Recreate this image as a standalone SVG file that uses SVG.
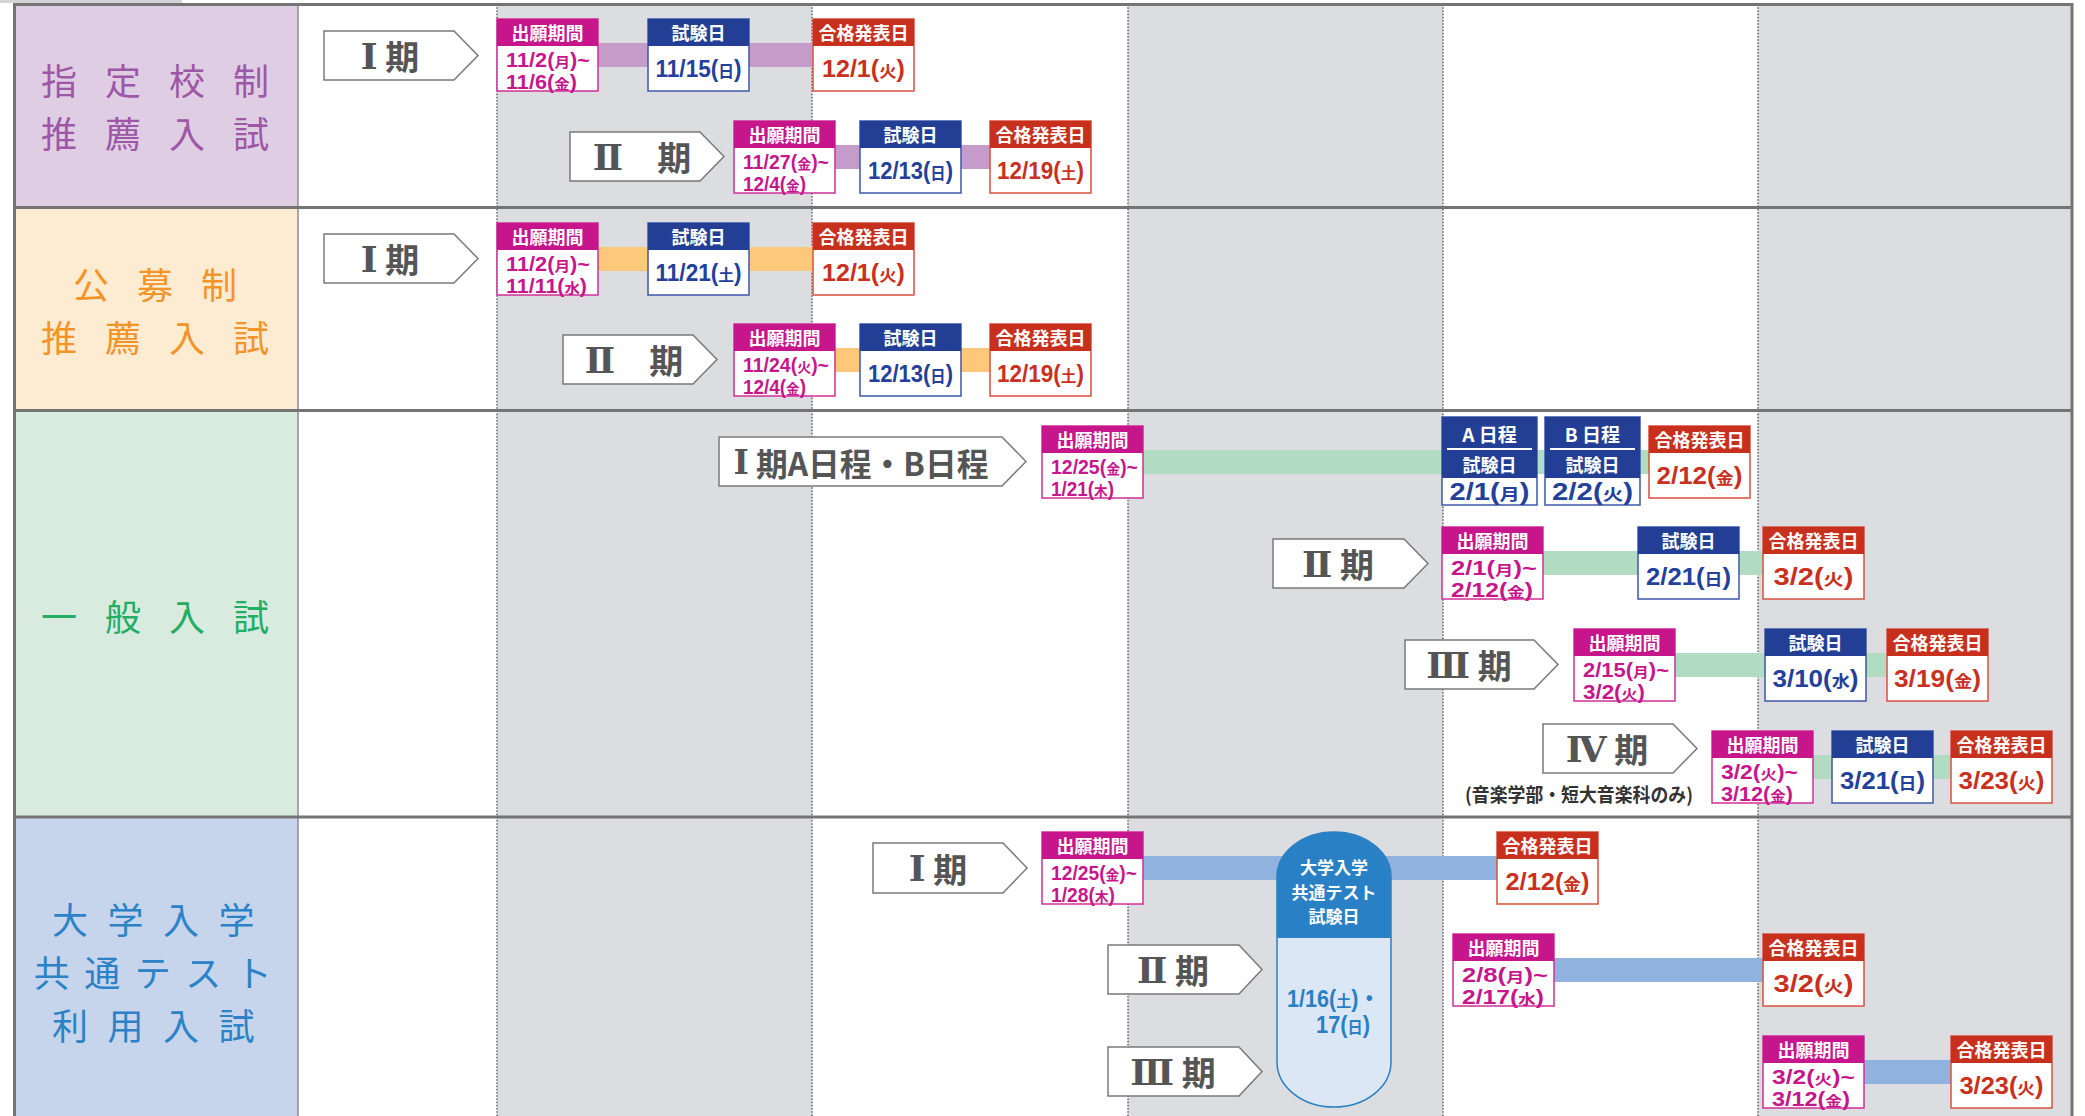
<svg xmlns="http://www.w3.org/2000/svg" width="2085" height="1116" viewBox="0 0 2085 1116">
<style>
text { font-family: "Noto Sans CJK JP", "Noto Sans", sans-serif; }
.ln { stroke:#747474; stroke-width:3; }
.vl { stroke:#8c8c8c; stroke-width:1.5; }
.dot { stroke:#6e6e6e; stroke-width:1.6; stroke-dasharray:1.6 1.6; }
.arr { fill:#fff; stroke:#7a7a7a; stroke-width:1.5; }
.at { font-weight:700; font-size:34px; fill:#555; text-anchor:middle; dominant-baseline:central; }
.rn { font-family: "DejaVu Serif", "Liberation Serif", serif; font-size:36px; }
.cat { font-size:36px; text-anchor:middle; dominant-baseline:central; letter-spacing:28px; }
.hd { font-weight:700; font-size:18px; fill:#fff; text-anchor:middle; dominant-baseline:central; }
.d { font-family: "Liberation Sans Narrow", "Liberation Sans", "Noto Sans CJK JP", sans-serif; font-weight:700; font-size:23px; }
.d2 { font-size:19.5px; }
.c { text-anchor:middle; }
.k { font-family: "Noto Sans CJK JP", sans-serif; font-size:16px; }
.d2 .k { font-size:14px; }
.ma { fill:#c7168b; } .nv { fill:#23409a; } .rd { fill:#c93020; }
.bA { fill:#fff; stroke:#d02f98; stroke-width:1.5; } .hA { fill:#c7168b; }
.bE { fill:#fff; stroke:#3c57aa; stroke-width:1.5; } .hE { fill:#233f95; }
.bP { fill:#fff; stroke:#d9503f; stroke-width:1.5; } .hP { fill:#c8301e; }
.gb { fill:#dcdde0; }
.barP { fill:#c59cc9; } .barO { fill:#fdc87a; } .barG { fill:#b1dcc1; } .barB { fill:#8fb2de; }
</style>

<g id="background">
  <rect x="0" y="0" width="182" height="3" fill="#d4d4d4"/>
  <rect class="gb" x="497" y="4" width="315" height="1112"/>
  <rect class="gb" x="1128" y="4" width="315" height="1112"/>
  <rect class="gb" x="1758" y="4" width="314" height="1112"/>
  <rect x="15" y="4" width="283" height="203" fill="#dfcde3"/>
  <rect x="15" y="207" width="283" height="203" fill="#fdecd1"/>
  <rect x="15" y="410" width="283" height="407" fill="#d8ebde"/>
  <rect x="15" y="817" width="283" height="299" fill="#c6d4ec"/>
  <line class="dot" x1="497" y1="4" x2="497" y2="1116"/>
  <line class="dot" x1="812" y1="4" x2="812" y2="1116"/>
  <line class="dot" x1="1128" y1="4" x2="1128" y2="1116"/>
  <line class="dot" x1="1443" y1="4" x2="1443" y2="1116"/>
  <line class="dot" x1="1758" y1="4" x2="1758" y2="1116"/>
  <line class="vl" x1="298" y1="4" x2="298" y2="1116"/>
  <line class="ln" x1="14.5" y1="3" x2="14.5" y2="1116" stroke-width="2.5"/>
  <line class="ln" x1="2072" y1="3" x2="2072" y2="1116" stroke-width="2"/>
  <line class="ln" x1="13" y1="4.5" x2="2073" y2="4.5" stroke-width="2.5"/>
  <line class="ln" x1="13" y1="207.5" x2="2073" y2="207.5"/>
  <line class="ln" x1="13" y1="410.5" x2="2073" y2="410.5"/>
  <line class="ln" x1="13" y1="817" x2="2073" y2="817"/>
</g>

<g id="categories">
  <g id="cat-shitei" fill="#9d57a6">
    <text class="cat"><tspan x="169" y="78.5">指定校制</tspan><tspan x="169" y="131.5">推薦入試</tspan></text>
  </g>
  <g id="cat-koubo" fill="#f39428">
    <text class="cat"><tspan x="169" y="282.5">公募制</tspan><tspan x="169" y="335.5">推薦入試</tspan></text>
  </g>
  <g id="cat-ippan" fill="#23ad63">
    <text class="cat" x="169" y="615">一般入試</text>
  </g>
  <g id="cat-kyoutsu" fill="#2b82c6">
    <text class="cat"><tspan x="163" y="918" style="letter-spacing:19.5px">大学入学</tspan><tspan x="160" y="971" style="letter-spacing:14.5px">共通テスト</tspan><tspan x="163" y="1024" style="letter-spacing:19.5px">利用入試</tspan></text>
  </g>
</g>

<g id="connectors">
  <rect class="barP" x="598" y="43" width="215" height="24"/>
  <rect class="barP" x="835" y="145" width="155" height="24"/>
  <rect class="barO" x="598" y="247" width="215" height="24"/>
  <rect class="barO" x="835" y="348" width="155" height="24"/>
  <rect class="barG" x="1143" y="450" width="506" height="24"/>
  <rect class="barG" x="1543" y="551" width="220" height="24"/>
  <rect class="barG" x="1675" y="653" width="212" height="24"/>
  <rect class="barG" x="1813" y="755" width="138" height="24"/>
  <rect class="barB" x="1143" y="856" width="354" height="24"/>
  <rect class="barB" x="1554" y="958" width="209" height="24"/>
  <rect class="barB" x="1864" y="1060" width="87" height="24"/>
</g>

<g id="period-labels">
  <g id="r1-p1"><path class="arr" d="M324,31 H454 L478,55.5 L454,80 H324 Z"/><text class="at" x="390" y="55.5"><tspan class="rn">Ⅰ</tspan> 期</text></g>
  <g id="r1-p2"><path class="arr" d="M570,132 H700 L724,156.5 L700,181 H570 Z"/><text class="at" x="642" y="156.5"><tspan class="rn">Ⅱ</tspan>　期</text></g>
  <g id="r2-p1"><path class="arr" d="M324,234 H454 L478,258.5 L454,283 H324 Z"/><text class="at" x="390" y="258.5"><tspan class="rn">Ⅰ</tspan> 期</text></g>
  <g id="r2-p2"><path class="arr" d="M563,335 H693 L717,359.5 L693,384 H563 Z"/><text class="at" x="634" y="359.5"><tspan class="rn">Ⅱ</tspan>　期</text></g>
  <g id="r3-p1"><path class="arr" d="M719,437 H1002 L1026,461.5 L1002,486 H719 Z"/><text class="at" x="861" y="461.5" style="font-size:32px" textLength="255" lengthAdjust="spacingAndGlyphs"><tspan class="rn" style="font-size:33px">Ⅰ</tspan> 期A日程・B日程</text></g>
  <g id="r3-p2"><path class="arr" d="M1273,539 H1404 L1428,563.5 L1404,588 H1273 Z"/><text class="at" x="1338" y="563.5"><tspan class="rn">Ⅱ</tspan> 期</text></g>
  <g id="r3-p3"><path class="arr" d="M1405,640 H1534 L1558,664.5 L1534,689 H1405 Z"/><text class="at" x="1469" y="664.5"><tspan class="rn">Ⅲ</tspan> 期</text></g>
  <g id="r3-p4"><path class="arr" d="M1543,724 H1673 L1697,748.5 L1673,773 H1543 Z"/><text class="at" x="1607" y="748.5"><tspan class="rn">Ⅳ</tspan> 期</text>
    <text x="1465" y="802" style="font-weight:700;font-size:19px;fill:#333" textLength="228" lengthAdjust="spacingAndGlyphs">(音楽学部・短大音楽科のみ)</text></g>
  <g id="r4-p1"><path class="arr" d="M873,843 H1003 L1027,868 L1003,893 H873 Z"/><text class="at" x="938" y="868"><tspan class="rn">Ⅰ</tspan> 期</text></g>
  <g id="r4-p2"><path class="arr" d="M1108,945 H1239 L1262,969.5 L1239,994 H1108 Z"/><text class="at" x="1173" y="969.5"><tspan class="rn">Ⅱ</tspan> 期</text></g>
  <g id="r4-p3"><path class="arr" d="M1108,1047 H1239 L1262,1071.5 L1239,1096 H1108 Z"/><text class="at" x="1173" y="1071.5"><tspan class="rn">Ⅲ</tspan> 期</text></g>
</g>

<g id="capsule">
  <rect x="1277" y="832" width="114" height="275" rx="57" ry="45" fill="#dce7f5" stroke="#2a80c5" stroke-width="1.5"/>
  <path d="M1277,938 V877 A57,45 0 0 1 1391,877 V938 Z" fill="#2a80c5"/>
  <text class="hd" style="font-size:17px"><tspan x="1334" y="866">大学入学</tspan><tspan x="1334" y="890.7">共通テスト</tspan><tspan x="1334" y="915.4">試験日</tspan></text>
  <text class="d" fill="#2a80c5"><tspan x="1287" y="1007" textLength="93" lengthAdjust="spacingAndGlyphs">1/16(<tspan class="k">土</tspan>)・</tspan><tspan x="1316" y="1033" textLength="54" lengthAdjust="spacingAndGlyphs">17(<tspan class="k">日</tspan>)</tspan></text>
</g>

<g id="r1-apply1"><rect class="bA" x="497" y="19" width="101" height="72"/><rect class="hA" x="497" y="19" width="101" height="27"/><text class="hd" x="547.5" y="32">出願期間</text>
  <text class="d d2 ma"><tspan x="506" y="67" textLength="84" lengthAdjust="spacingAndGlyphs">11/2(<tspan class="k">月</tspan>)~</tspan><tspan x="506" y="88.5" textLength="71" lengthAdjust="spacingAndGlyphs">11/6(<tspan class="k">金</tspan>)</tspan></text></g>
<g id="r1-exam1"><rect class="bE" x="648" y="19" width="101" height="72"/><rect class="hE" x="648" y="19" width="101" height="27"/><text class="hd" x="698.5" y="32">試験日</text>
  <text class="d c nv" x="698.5" y="77" textLength="86" lengthAdjust="spacingAndGlyphs">11/15(<tspan class="k">日</tspan>)</text></g>
<g id="r1-pass1"><rect class="bP" x="813" y="19" width="101" height="72"/><rect class="hP" x="813" y="19" width="101" height="27"/><text class="hd" x="863.5" y="32">合格発表日</text>
  <text class="d c rd" x="863.5" y="77" textLength="83" lengthAdjust="spacingAndGlyphs">12/1(<tspan class="k">火</tspan>)</text></g>

<g id="r1-apply2"><rect class="bA" x="734" y="121" width="101" height="72"/><rect class="hA" x="734" y="121" width="101" height="27"/><text class="hd" x="784.5" y="134">出願期間</text>
  <text class="d d2 ma"><tspan x="743" y="169" textLength="86" lengthAdjust="spacingAndGlyphs">11/27(<tspan class="k">金</tspan>)~</tspan><tspan x="743" y="190.5" textLength="63" lengthAdjust="spacingAndGlyphs">12/4(<tspan class="k">金</tspan>)</tspan></text></g>
<g id="r1-exam2"><rect class="bE" x="860" y="121" width="101" height="72"/><rect class="hE" x="860" y="121" width="101" height="27"/><text class="hd" x="910.5" y="134">試験日</text>
  <text class="d c nv" x="910.5" y="179" textLength="85" lengthAdjust="spacingAndGlyphs">12/13(<tspan class="k">日</tspan>)</text></g>
<g id="r1-pass2"><rect class="bP" x="990" y="121" width="101" height="72"/><rect class="hP" x="990" y="121" width="101" height="27"/><text class="hd" x="1040.5" y="134">合格発表日</text>
  <text class="d c rd" x="1040.5" y="179" textLength="87" lengthAdjust="spacingAndGlyphs">12/19(<tspan class="k">土</tspan>)</text></g>

<g id="r2-apply1"><rect class="bA" x="497" y="223" width="101" height="72"/><rect class="hA" x="497" y="223" width="101" height="27"/><text class="hd" x="547.5" y="236">出願期間</text>
  <text class="d d2 ma"><tspan x="506" y="271" textLength="84" lengthAdjust="spacingAndGlyphs">11/2(<tspan class="k">月</tspan>)~</tspan><tspan x="506" y="292.5" textLength="81" lengthAdjust="spacingAndGlyphs">11/11(<tspan class="k">水</tspan>)</tspan></text></g>
<g id="r2-exam1"><rect class="bE" x="648" y="223" width="101" height="72"/><rect class="hE" x="648" y="223" width="101" height="27"/><text class="hd" x="698.5" y="236">試験日</text>
  <text class="d c nv" x="698.5" y="281" textLength="86" lengthAdjust="spacingAndGlyphs">11/21(<tspan class="k">土</tspan>)</text></g>
<g id="r2-pass1"><rect class="bP" x="813" y="223" width="101" height="72"/><rect class="hP" x="813" y="223" width="101" height="27"/><text class="hd" x="863.5" y="236">合格発表日</text>
  <text class="d c rd" x="863.5" y="281" textLength="83" lengthAdjust="spacingAndGlyphs">12/1(<tspan class="k">火</tspan>)</text></g>

<g id="r2-apply2"><rect class="bA" x="734" y="324" width="101" height="72"/><rect class="hA" x="734" y="324" width="101" height="27"/><text class="hd" x="784.5" y="337">出願期間</text>
  <text class="d d2 ma"><tspan x="743" y="372" textLength="86" lengthAdjust="spacingAndGlyphs">11/24(<tspan class="k">火</tspan>)~</tspan><tspan x="743" y="393.5" textLength="63" lengthAdjust="spacingAndGlyphs">12/4(<tspan class="k">金</tspan>)</tspan></text></g>
<g id="r2-exam2"><rect class="bE" x="860" y="324" width="101" height="72"/><rect class="hE" x="860" y="324" width="101" height="27"/><text class="hd" x="910.5" y="337">試験日</text>
  <text class="d c nv" x="910.5" y="382" textLength="85" lengthAdjust="spacingAndGlyphs">12/13(<tspan class="k">日</tspan>)</text></g>
<g id="r2-pass2"><rect class="bP" x="990" y="324" width="101" height="72"/><rect class="hP" x="990" y="324" width="101" height="27"/><text class="hd" x="1040.5" y="337">合格発表日</text>
  <text class="d c rd" x="1040.5" y="382" textLength="87" lengthAdjust="spacingAndGlyphs">12/19(<tspan class="k">土</tspan>)</text></g>

<g id="r3-apply1"><rect class="bA" x="1042" y="426" width="101" height="72"/><rect class="hA" x="1042" y="426" width="101" height="27"/><text class="hd" x="1092.5" y="439">出願期間</text>
  <text class="d d2 ma"><tspan x="1051" y="474" textLength="87" lengthAdjust="spacingAndGlyphs">12/25(<tspan class="k">金</tspan>)~</tspan><tspan x="1051" y="495.5" textLength="63" lengthAdjust="spacingAndGlyphs">1/21(<tspan class="k">木</tspan>)</tspan></text></g>
<g id="r3-examA"><rect class="bE" x="1442" y="417" width="95" height="88"/><rect class="hE" x="1442" y="417" width="95" height="61"/>
  <text class="hd" x="1489.5" y="433" style="font-size:19px">A 日程</text>
  <line x1="1447" y1="449" x2="1532" y2="449" stroke="#fff" stroke-width="2"/>
  <text class="hd" x="1489.5" y="463.5">試験日</text>
  <text class="d c nv" x="1489.5" y="500" textLength="80" lengthAdjust="spacingAndGlyphs">2/1(<tspan class="k">月</tspan>)</text></g>
<g id="r3-examB"><rect class="bE" x="1545" y="417" width="95" height="88"/><rect class="hE" x="1545" y="417" width="95" height="61"/>
  <text class="hd" x="1592.5" y="433" style="font-size:19px">B 日程</text>
  <line x1="1550" y1="449" x2="1635" y2="449" stroke="#fff" stroke-width="2"/>
  <text class="hd" x="1592.5" y="463.5">試験日</text>
  <text class="d c nv" x="1592.5" y="500" textLength="81" lengthAdjust="spacingAndGlyphs">2/2(<tspan class="k">火</tspan>)</text></g>
<g id="r3-pass1"><rect class="bP" x="1649" y="426" width="101" height="72"/><rect class="hP" x="1649" y="426" width="101" height="27"/><text class="hd" x="1699.5" y="439">合格発表日</text>
  <text class="d c rd" x="1699.5" y="484" textLength="86" lengthAdjust="spacingAndGlyphs">2/12(<tspan class="k">金</tspan>)</text></g>

<g id="r3-apply2"><rect class="bA" x="1442" y="527" width="101" height="72"/><rect class="hA" x="1442" y="527" width="101" height="27"/><text class="hd" x="1492.5" y="540">出願期間</text>
  <text class="d d2 ma"><tspan x="1451" y="575" textLength="86" lengthAdjust="spacingAndGlyphs">2/1(<tspan class="k">月</tspan>)~</tspan><tspan x="1451" y="596.5" textLength="82" lengthAdjust="spacingAndGlyphs">2/12(<tspan class="k">金</tspan>)</tspan></text></g>
<g id="r3-exam2"><rect class="bE" x="1638" y="527" width="101" height="72"/><rect class="hE" x="1638" y="527" width="101" height="27"/><text class="hd" x="1688.5" y="540">試験日</text>
  <text class="d c nv" x="1688.5" y="585" textLength="85" lengthAdjust="spacingAndGlyphs">2/21(<tspan class="k">日</tspan>)</text></g>
<g id="r3-pass2"><rect class="bP" x="1763" y="527" width="101" height="72"/><rect class="hP" x="1763" y="527" width="101" height="27"/><text class="hd" x="1813.5" y="540">合格発表日</text>
  <text class="d c rd" x="1813.5" y="585" textLength="80" lengthAdjust="spacingAndGlyphs">3/2(<tspan class="k">火</tspan>)</text></g>

<g id="r3-apply3"><rect class="bA" x="1574" y="629" width="101" height="72"/><rect class="hA" x="1574" y="629" width="101" height="27"/><text class="hd" x="1624.5" y="642">出願期間</text>
  <text class="d d2 ma"><tspan x="1583" y="677" textLength="86" lengthAdjust="spacingAndGlyphs">2/15(<tspan class="k">月</tspan>)~</tspan><tspan x="1583" y="698.5" textLength="62" lengthAdjust="spacingAndGlyphs">3/2(<tspan class="k">火</tspan>)</tspan></text></g>
<g id="r3-exam3"><rect class="bE" x="1765" y="629" width="101" height="72"/><rect class="hE" x="1765" y="629" width="101" height="27"/><text class="hd" x="1815.5" y="642">試験日</text>
  <text class="d c nv" x="1815.5" y="687" textLength="86" lengthAdjust="spacingAndGlyphs">3/10(<tspan class="k">水</tspan>)</text></g>
<g id="r3-pass3"><rect class="bP" x="1887" y="629" width="101" height="72"/><rect class="hP" x="1887" y="629" width="101" height="27"/><text class="hd" x="1937.5" y="642">合格発表日</text>
  <text class="d c rd" x="1937.5" y="687" textLength="87" lengthAdjust="spacingAndGlyphs">3/19(<tspan class="k">金</tspan>)</text></g>

<g id="r3-apply4"><rect class="bA" x="1712" y="731" width="101" height="72"/><rect class="hA" x="1712" y="731" width="101" height="27"/><text class="hd" x="1762.5" y="744">出願期間</text>
  <text class="d d2 ma"><tspan x="1721" y="779" textLength="77" lengthAdjust="spacingAndGlyphs">3/2(<tspan class="k">火</tspan>)~</tspan><tspan x="1721" y="800.5" textLength="72" lengthAdjust="spacingAndGlyphs">3/12(<tspan class="k">金</tspan>)</tspan></text></g>
<g id="r3-exam4"><rect class="bE" x="1832" y="731" width="101" height="72"/><rect class="hE" x="1832" y="731" width="101" height="27"/><text class="hd" x="1882.5" y="744">試験日</text>
  <text class="d c nv" x="1882.5" y="789" textLength="85" lengthAdjust="spacingAndGlyphs">3/21(<tspan class="k">日</tspan>)</text></g>
<g id="r3-pass4"><rect class="bP" x="1951" y="731" width="101" height="72"/><rect class="hP" x="1951" y="731" width="101" height="27"/><text class="hd" x="2001.5" y="744">合格発表日</text>
  <text class="d c rd" x="2001.5" y="789" textLength="86" lengthAdjust="spacingAndGlyphs">3/23(<tspan class="k">火</tspan>)</text></g>

<g id="r4-apply1"><rect class="bA" x="1042" y="832" width="101" height="72"/><rect class="hA" x="1042" y="832" width="101" height="27"/><text class="hd" x="1092.5" y="845">出願期間</text>
  <text class="d d2 ma"><tspan x="1051" y="880" textLength="86" lengthAdjust="spacingAndGlyphs">12/25(<tspan class="k">金</tspan>)~</tspan><tspan x="1051" y="901.5" textLength="64" lengthAdjust="spacingAndGlyphs">1/28(<tspan class="k">木</tspan>)</tspan></text></g>
<g id="r4-pass1"><rect class="bP" x="1497" y="832" width="101" height="72"/><rect class="hP" x="1497" y="832" width="101" height="27"/><text class="hd" x="1547.5" y="845">合格発表日</text>
  <text class="d c rd" x="1547.5" y="890" textLength="84" lengthAdjust="spacingAndGlyphs">2/12(<tspan class="k">金</tspan>)</text></g>

<g id="r4-apply2"><rect class="bA" x="1453" y="934" width="101" height="72"/><rect class="hA" x="1453" y="934" width="101" height="27"/><text class="hd" x="1503.5" y="947">出願期間</text>
  <text class="d d2 ma"><tspan x="1462" y="982" textLength="86" lengthAdjust="spacingAndGlyphs">2/8(<tspan class="k">月</tspan>)~</tspan><tspan x="1462" y="1003.5" textLength="82" lengthAdjust="spacingAndGlyphs">2/17(<tspan class="k">水</tspan>)</tspan></text></g>
<g id="r4-pass2"><rect class="bP" x="1763" y="934" width="101" height="72"/><rect class="hP" x="1763" y="934" width="101" height="27"/><text class="hd" x="1813.5" y="947">合格発表日</text>
  <text class="d c rd" x="1813.5" y="992" textLength="80" lengthAdjust="spacingAndGlyphs">3/2(<tspan class="k">火</tspan>)</text></g>

<g id="r4-apply3"><rect class="bA" x="1763" y="1036" width="101" height="72"/><rect class="hA" x="1763" y="1036" width="101" height="27"/><text class="hd" x="1813.5" y="1049">出願期間</text>
  <text class="d d2 ma"><tspan x="1772" y="1084" textLength="83" lengthAdjust="spacingAndGlyphs">3/2(<tspan class="k">火</tspan>)~</tspan><tspan x="1772" y="1105.5" textLength="78" lengthAdjust="spacingAndGlyphs">3/12(<tspan class="k">金</tspan>)</tspan></text></g>
<g id="r4-pass3"><rect class="bP" x="1951" y="1036" width="101" height="72"/><rect class="hP" x="1951" y="1036" width="101" height="27"/><text class="hd" x="2001.5" y="1049">合格発表日</text>
  <text class="d c rd" x="2001.5" y="1094" textLength="84" lengthAdjust="spacingAndGlyphs">3/23(<tspan class="k">火</tspan>)</text></g>
</svg>
